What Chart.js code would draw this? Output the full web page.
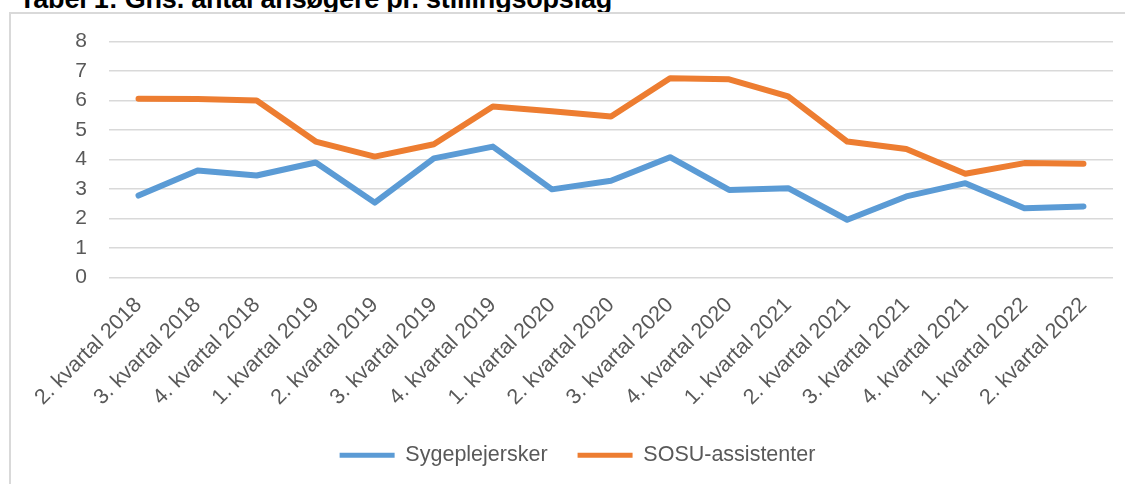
<!DOCTYPE html>
<html>
<head>
<meta charset="utf-8">
<script src="https://cdn.jsdelivr.net/npm/chart.js@4/dist/chart.umd.min.js"></script>
<style>
  html, body { margin: 0; padding: 0; background: #fff; overflow: hidden; }
  body { width: 1125px; height: 484px; position: relative; }
  #title { position: absolute; left: 19px; top: -14px; font: bold 27px "Liberation Sans", sans-serif; line-height: 27px; color: #000; white-space: nowrap; letter-spacing: -0.2px; }
  #frame { position: absolute; left: 9px; top: 12px; width: 1130px; height: 480px; border-left: 2px solid #d9d9d9; border-top: 2px solid #d9d9d9; }
  #wrap { position: absolute; left: 11px; top: 7px; width: 1150px; height: 477px; }
</style>
</head>
<body>
<div id="title">Tabel 1: Gns. antal ansøgere pr. stillingsopslag</div>
<div id="frame"></div>
<div id="wrap"><canvas id="c"></canvas></div>
<script>
const categories = [
  "2. kvartal 2018", "3. kvartal 2018", "4. kvartal 2018",
  "1. kvartal 2019", "2. kvartal 2019", "3. kvartal 2019", "4. kvartal 2019",
  "1. kvartal 2020", "2. kvartal 2020", "3. kvartal 2020", "4. kvartal 2020",
  "1. kvartal 2021", "2. kvartal 2021", "3. kvartal 2021", "4. kvartal 2021",
  "1. kvartal 2022", "2. kvartal 2022"
];
const sygeplejersker = [2.78, 3.63, 3.46, 3.9, 2.54, 4.04, 4.44, 2.99, 3.28, 4.08, 2.97, 3.03, 1.96, 2.75, 3.2, 2.35, 2.41];
const sosuAssistenter = [6.06, 6.05, 6.0, 4.61, 4.1, 4.52, 5.8, 5.64, 5.46, 6.76, 6.72, 6.14, 4.61, 4.36, 3.52, 3.88, 3.86];
const yTicks = [0, 1, 2, 3, 4, 5, 6, 7, 8];

const FONT = '"Liberation Sans", sans-serif';
const GRAY = '#595959';

new Chart(document.getElementById('c'), {
  type: 'line',
  data: {
    labels: categories,
    datasets: [
      { label: 'Sygeplejersker', data: sygeplejersker, borderColor: '#5B9BD5', backgroundColor: '#5B9BD5', borderWidth: 6, pointRadius: 0, tension: 0, borderCapStyle: 'round', borderJoinStyle: 'round' },
      { label: 'SOSU-assistenter', data: sosuAssistenter, borderColor: '#ED7D31', backgroundColor: '#ED7D31', borderWidth: 6, pointRadius: 0, tension: 0, borderCapStyle: 'round', borderJoinStyle: 'round' }
    ]
  },
  options: {
    responsive: true,
    maintainAspectRatio: false,
    animation: false,
    layout: { padding: { left: 31, right: 48, top: 12, bottom: 8 } },
    plugins: {
      legend: {
        position: 'bottom',
        labels: {
          font: { family: FONT, size: 21.5 },
          color: GRAY,
          boxWidth: 55,
          boxHeight: 5,
          padding: 30,
          generateLabels: (chart) => chart.data.datasets.map((ds, i) => ({
            text: ds.label, fillStyle: ds.borderColor, strokeStyle: ds.borderColor,
            lineWidth: 0, datasetIndex: i, fontColor: GRAY
          }))
        }
      },
      tooltip: { enabled: false }
    },
    scales: {
      x: {
        offset: true,
        grid: { display: false, drawTicks: false },
        border: { display: false },
        afterFit: (s) => { s.height = s.height - 11; },
        ticks: { font: { family: FONT, size: 21.5 }, color: GRAY, minRotation: 45, maxRotation: 45, autoSkip: false, padding: 15 }
      },
      y: {
        min: 0, max: 8,
        afterBuildTicks: (s) => { s.ticks = yTicks.map(v => ({ value: v })); },
        afterFit: (s) => { s.width = 67; },
        grid: { color: '#D9D9D9', lineWidth: 1.5, drawTicks: false },
        border: { display: false },
        ticks: { font: { family: FONT, size: 21 }, color: GRAY, padding: 22, autoSkip: false }
      }
    }
  }
});
</script>
</body>
</html>
